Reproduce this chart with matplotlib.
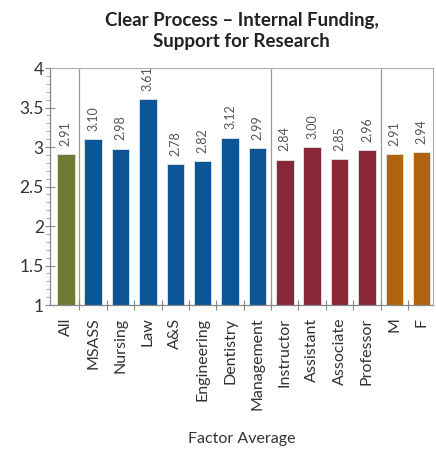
import numpy as np
import matplotlib.pyplot as plt
from matplotlib.ticker import MultipleLocator, FixedLocator

# Factor averages
categories = ["All", "MSASS", "Nursing", "Law", "A&S", "Engineering", "Dentistry",
              "Management", "Instructor", "Assistant", "Associate", "Professor", "M", "F"]
values = [2.91, 3.10, 2.98, 3.61, 2.78, 2.82, 3.12, 2.99, 2.84, 3.00, 2.85, 2.96, 2.91, 2.94]
groups = ["all", "school", "school", "school", "school", "school", "school", "school",
          "rank", "rank", "rank", "rank", "gender", "gender"]

group_colors = {"all": "#6d7a32", "school": "#0c5596", "rank": "#8a2838", "gender": "#b0640f"}

plt.rcParams['font.family'] = ['Lato', 'DejaVu Sans']

fig = plt.figure(figsize=(4.36, 4.54), dpi=100)
ax = fig.add_axes([0.115, 0.328, 0.878, 0.522])

x = np.arange(len(categories))
colors = [group_colors[g] for g in groups]
ax.bar(x, values, width=0.64, color=colors, edgecolor="#dfe6ea", linewidth=0.6, zorder=2)

# value labels above bars
for xi, v in zip(x, values):
    ax.annotate(f"{v:.2f}", (xi, v), xytext=(0, 6), textcoords="offset points",
                rotation=90, ha="center", va="bottom", fontsize=9, color="#555555")

# group separators
for b in range(len(groups) - 1):
    if groups[b] != groups[b + 1]:
        ax.axvline(b + 0.5, color="#9a9a9a", linewidth=0.9, zorder=1)

ax.set_xlim(-0.57, len(categories) - 1 + 0.41)
ax.set_ylim(1, 4)

ax.yaxis.set_major_locator(MultipleLocator(0.5))
ax.yaxis.set_minor_locator(MultipleLocator(0.1))
ax.set_yticks([1, 1.5, 2, 2.5, 3, 3.5, 4])
ax.set_yticklabels(["1", "1.5", "2", "2.5", "3", "3.5", "4"])
ax.tick_params(axis="y", which="major", direction="inout", length=7, width=0.8,
               color="#888888", labelsize=12.5, labelcolor="#333333", pad=1)
ax.tick_params(axis="y", which="minor", direction="out", length=3, width=0.6, color="#999999")

ax.set_xticks(x)
ax.set_xticklabels(categories, rotation=90)
ax.xaxis.set_minor_locator(FixedLocator(np.arange(0.5, len(categories) - 1, 1)))
ax.tick_params(axis="x", which="major", length=0, labelsize=11.5, labelcolor="#333333", pad=9)
ax.tick_params(axis="x", which="minor", direction="inout", length=7, width=0.8, color="#888888")

for side in ["left", "bottom"]:
    ax.spines[side].set_color("#888888")
    ax.spines[side].set_linewidth(0.9)
for side in ["top", "right"]:
    ax.spines[side].set_color("#b0b0b0")
    ax.spines[side].set_linewidth(0.8)

ax.set_title("Clear Process \u2013 Internal Funding,\nSupport for Research",
             fontsize=13.5, fontweight="bold", color="#222222", pad=15, linespacing=1.3)
ax.set_xlabel("Factor Average", fontsize=11.5, color="#333333", labelpad=16)

plt.savefig("out.png", dpi=100)
